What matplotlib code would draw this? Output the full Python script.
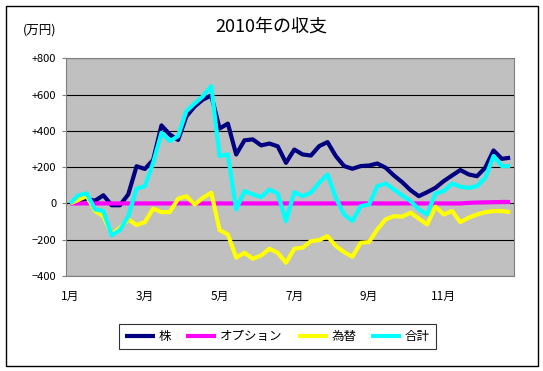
import matplotlib
matplotlib.use("Agg")
import matplotlib.pyplot as plt
from matplotlib.patches import Rectangle
import numpy as np

plt.rcParams['font.family'] = ['Noto Sans CJK JP', 'DejaVu Sans']

# weekly values (万円), 54 points
kabu = [0, 15, 25, 15, 45, -10, -10, 50, 205, 190, 240, 430, 380, 350, 480, 535, 573, 595,
        413, 440, 270, 348, 353, 320, 330, 315, 224, 297, 270, 264, 316, 338, 261, 206, 191,
        206, 209, 220, 197, 154, 117, 73, 40, 62, 86, 123, 154, 184, 160, 150, 197, 292, 246, 252]
option = [0] * 48 + [3, 5, 6, 7, 8, 8]
kawase = [0, 20, 40, -42, -70, -171, -134, -88, -119, -103, -29, -48, -48, 26, 40, -6, 31, 59,
          -147, -171, -299, -272, -305, -287, -250, -272, -327, -250, -244, -208, -202, -180, -235,
          -268, -294, -217, -213, -143, -88, -70, -73, -51, -84, -116, -18, -61, -42, -103, -79,
          -61, -48, -42, -42, -48]
goukei = [0, 45, 55, -33, -42, -176, -147, -70, 81, 95, 224, 389, 343, 371, 509, 551, 591, 646,
          261, 270, -33, 68, 50, 35, 77, 55, -98, 62, 40, 59, 114, 160, 30, -61, -97, -15, -6, 95,
          110, 77, 44, 13, -33, -61, 55, 68, 110, 92, 86, 95, 141, 261, 206, 206]

month_pos = [0, 9, 18, 27, 36, 45]
month_labels = ["1月", "3月", "5月", "7月", "9月", "11月"]
y_ticks = [800, 600, 400, 200, 0, -200, -400]
y_labels = ["+800", "+600", "+400", "+200", "0", "−200", "−400"]

series = [("株", kabu, "#000080"), ("オプション", option, "#FF00FF"),
          ("為替", kawase, "#FFFF00"), ("合計", goukei, "#00FFFF")]

fig = plt.figure(figsize=(5.43, 3.71), dpi=100)
ax = fig.add_axes([66/543, 1 - 276/371, (514.3 - 66)/543, (276 - 58.3)/371])
ax.set_facecolor("#C0C0C0")

x = np.arange(len(kabu))
for name, vals, col in series:
    ax.plot(x, vals, color=col, lw=3, label=name, solid_joinstyle='round', solid_capstyle='butt')

ax.set_xlim(-0.5, len(kabu) - 0.5)
ax.set_ylim(-400, 800)
ax.set_yticks(y_ticks)
ax.set_yticklabels(y_labels)
ax.set_xticks(month_pos)
ax.set_xticklabels(month_labels)
ax.yaxis.grid(True, color="black", lw=0.8)
ax.set_axisbelow(True)
ax.tick_params(axis='y', length=3, width=0.8, color="#808080", pad=4, labelsize=8)
ax.tick_params(axis='x', length=0, pad=10, labelsize=8.5)
for s in ax.spines.values():
    s.set_color("#808080")
    s.set_linewidth(0.8)

fig.text(0.5, 1 - 27/371, "2010年の収支", ha='center', va='center', fontsize=13)
fig.text(40/543, 1 - 30/371, "(万円)", ha='center', va='center', fontsize=9)

leg = ax.legend(loc='center', bbox_to_anchor=(277.5/543, 1 - 336.5/371), bbox_transform=fig.transFigure,
                ncol=4, fontsize=9, frameon=True, fancybox=False, handlelength=2.4,
                handletextpad=0.3, columnspacing=1.2, borderpad=0.5)
leg.get_frame().set_edgecolor("black")
leg.get_frame().set_linewidth(0.8)

fig.patches.append(Rectangle((6/543, 5/371), 531.5/543, 360/371, transform=fig.transFigure,
                             fill=False, edgecolor="black", lw=1))

fig.savefig("out.png", dpi=100)
